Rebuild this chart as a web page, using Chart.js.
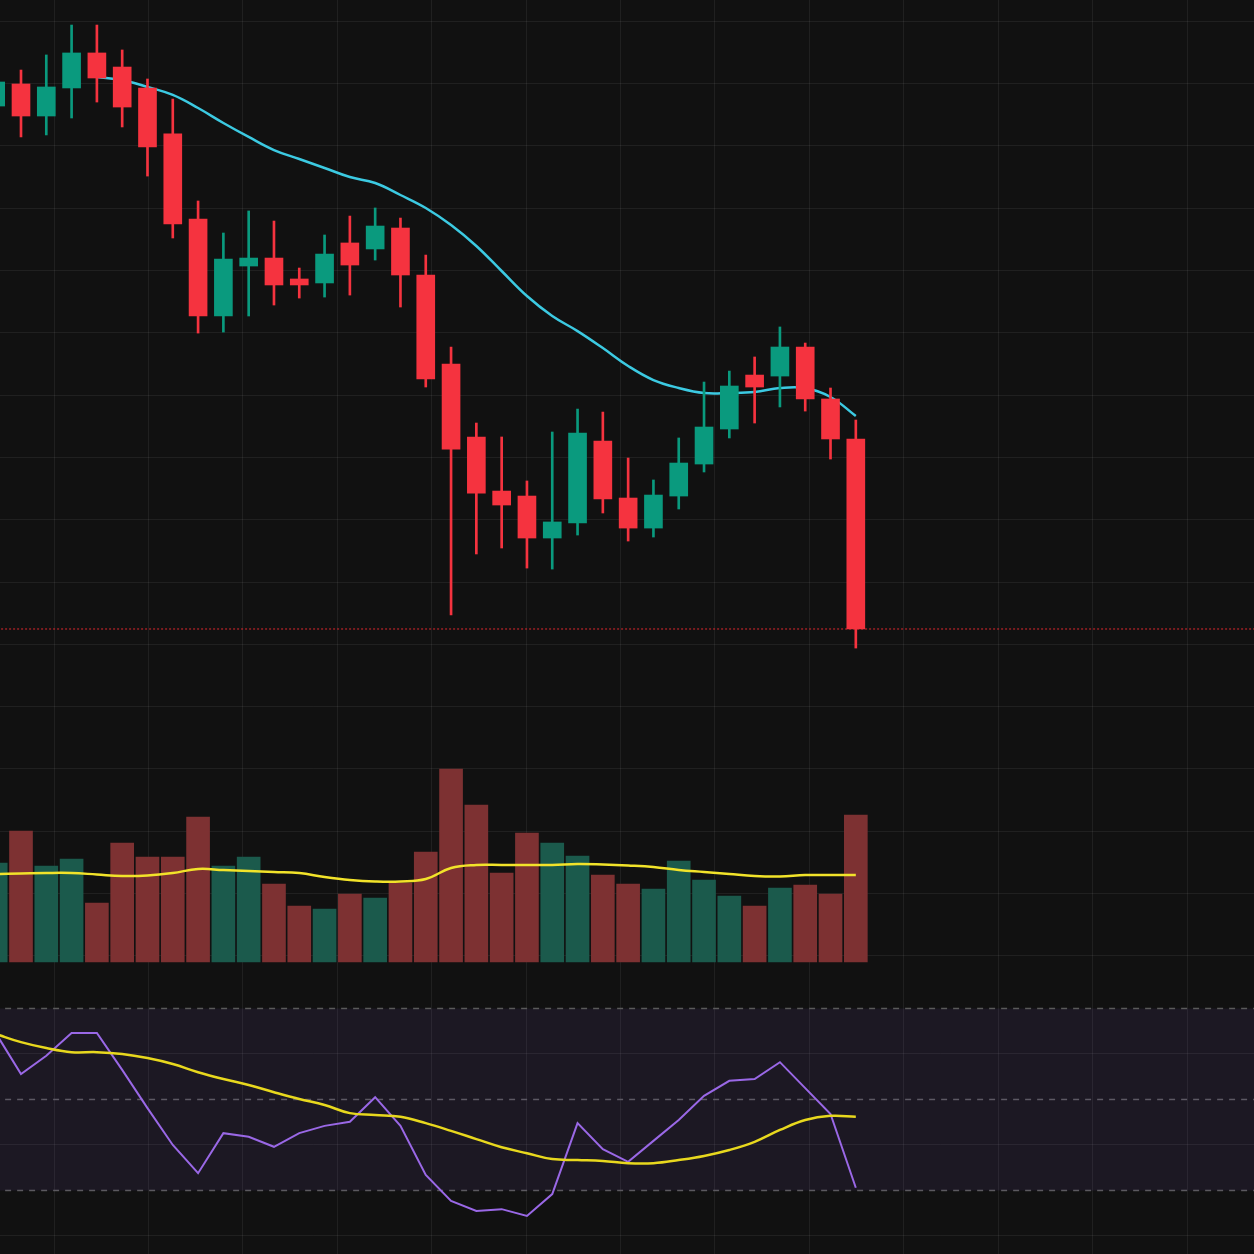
<!DOCTYPE html>
<html>
<head>
<meta charset="utf-8">
<script src="https://cdn.jsdelivr.net/npm/chart.js@4.4.1/dist/chart.umd.min.js"></script>
<style>
  html, body { margin: 0; padding: 0; background: #111111; }
  #wrap { width: 1254px; height: 1254px; }
</style>
</head>
<body>
<div id="wrap"><canvas id="grafico"></canvas></div>
<script>
// OHLC por vela
const opens  = [2532.0, 2549.7, 2524.0, 2546.5, 2574.6, 2563.3, 2546.5, 2509.6, 2441.3, 2363.5, 2403.6, 2410.0, 2393.2, 2390.0, 2422.1, 2417.3, 2434.1, 2396.4, 2325.0, 2266.4, 2223.0, 2219.0, 2185.3, 2197.4, 2263.2, 2217.4, 2193.3, 2219.0, 2244.7, 2272.8, 2316.1, 2315.3, 2338.6, 2296.9, 2264.8];
const highs  = [2556.1, 2560.9, 2573.0, 2597.0, 2597.0, 2577.0, 2553.7, 2537.6, 2455.8, 2430.1, 2447.8, 2439.7, 2402.0, 2428.5, 2443.7, 2450.2, 2442.1, 2412.4, 2338.6, 2277.6, 2266.4, 2231.1, 2270.4, 2288.8, 2286.4, 2249.5, 2231.9, 2265.6, 2310.5, 2319.3, 2330.6, 2354.7, 2341.8, 2305.7, 2280.0];
const lows   = [2527.2, 2507.2, 2508.8, 2522.4, 2535.2, 2515.2, 2475.8, 2426.1, 2349.8, 2350.6, 2363.5, 2372.3, 2377.9, 2378.7, 2380.3, 2408.4, 2370.7, 2306.5, 2123.5, 2172.5, 2177.3, 2161.2, 2160.4, 2187.7, 2205.4, 2182.9, 2186.1, 2208.6, 2238.3, 2265.6, 2277.6, 2290.5, 2287.2, 2248.7, 2097.0];
const closes = [2551.3, 2524.0, 2547.3, 2574.6, 2554.5, 2531.2, 2499.1, 2437.3, 2363.5, 2409.2, 2410.0, 2388.4, 2388.4, 2413.2, 2404.4, 2435.7, 2396.4, 2312.9, 2256.7, 2221.4, 2211.8, 2185.3, 2198.2, 2269.6, 2216.6, 2193.3, 2219.8, 2245.5, 2274.4, 2307.3, 2306.5, 2338.6, 2296.9, 2264.8, 2112.3];
// media movil del precio
const priceMa = [null, null, null, null, 2555.3, 2552.9, 2547.3, 2540.9, 2530.4, 2518.4, 2507.2, 2496.7, 2489.5, 2482.3, 2475.0, 2470.2, 2460.6, 2450.2, 2436.5, 2419.7, 2399.6, 2379.5, 2363.5, 2351.4, 2337.8, 2323.4, 2312.1, 2305.7, 2301.7, 2301.7, 2302.5, 2305.7, 2305.7, 2298.5, 2283.2];
// volumen y su media
const volumes = [99, 131, 96, 103, 59, 119, 105, 105, 145, 96, 105, 78, 56, 53, 68, 64, 79, 110, 193, 157, 89, 129, 119, 106, 87, 78, 73, 101, 82, 66, 56, 74, 77, 68, 147];
const volumeMa = [88, 88.5, 89, 89, 87.5, 86, 86.5, 89, 93, 92, 91, 90, 89, 85, 82, 80.5, 80.5, 83, 94, 97, 97, 97, 97, 98, 97.5, 96.5, 95, 92, 90, 88, 86, 85.5, 87, 87, 87];
// RSI y su media
const rsi   = [64.6, 55.6, 59.6, 64.6, 64.6, 56.5, 48.1, 40.0, 33.8, 42.6, 41.8, 39.6, 42.6, 44.2, 45.1, 50.5, 44.2, 33.4, 27.7, 25.5, 25.9, 24.4, 29.2, 44.8, 39.1, 36.3, 40.9, 45.5, 50.8, 54.1, 54.5, 58.2, 52.5, 46.8, 30.6];
const rsiMa = [64.4, 62.6, 61.3, 60.4, 60.4, 60.0, 59.1, 57.8, 56.0, 54.5, 53.2, 51.6, 50.1, 48.8, 47.0, 46.6, 46.2, 44.8, 43.1, 41.3, 39.5, 38.2, 36.9, 36.7, 36.5, 36.0, 36.0, 36.7, 37.6, 38.9, 40.7, 43.3, 45.5, 46.4, 46.2];
const rsiLevels = [70, 50, 30];

document.addEventListener("DOMContentLoaded", () => {
    const ctx = document.getElementById('grafico').getContext('2d');
    const gridColor = 'rgba(255,255,255,0.065)';
    const up = closes.map((c, i) => c >= opens[i]);
    const candleColor = up.map(u => u ? '#0a9a7e' : '#f5333f');
    const volColor = up.map(u => u ? '#1b5a4c' : '#7d3132');
    const pts = arr => arr.map((v, i) => ({ x: i, y: v }));
    const flat = v => [{ x: -2, y: v }, { x: 52, y: v }];
    const last = closes[closes.length - 1];

    // lineas 70 / 50 / 30 y banda entre 70 y 30
    const levelSets = rsiLevels.map((lv, k) => ({
        type: 'line',
        xAxisID: 'x',
        yAxisID: 'yr',
        data: flat(lv),
        borderColor: '#5a5a5a',
        borderWidth: 1.5,
        borderDash: [6, 6],
        pointRadius: 0,
        fill: k === 0 ? { value: rsiLevels[rsiLevels.length - 1] } : false,
        backgroundColor: 'rgba(126,87,194,0.10)',
        order: 9
    }));

    new Chart(ctx, {
        type: 'bar',
        data: {
            datasets: [
                // mechas
                { type: 'bar', xAxisID: 'x', yAxisID: 'y', data: lows.map((l, i) => ({ x: i, y: [l, highs[i]] })),
                  backgroundColor: candleColor, barThickness: 2, grouped: false, order: 2 },
                // cuerpos
                { type: 'bar', xAxisID: 'x', yAxisID: 'y', data: opens.map((o, i) => ({ x: i, y: [o, closes[i]] })),
                  backgroundColor: candleColor, barThickness: 18, grouped: false, order: 1 },
                { type: 'line', xAxisID: 'x', yAxisID: 'y', data: pts(priceMa), borderColor: '#3ccae2', borderWidth: 2.5,
                  pointRadius: 0, tension: 0.4, order: 3 },
                // precio actual
                { type: 'line', xAxisID: 'x', yAxisID: 'y', data: flat(last), borderColor: '#e0282e', borderWidth: 1,
                  borderDash: [2, 2], pointRadius: 0, order: 4 },
                { type: 'bar', xAxisID: 'x', yAxisID: 'yv', data: pts(volumes), backgroundColor: volColor,
                  barThickness: 23, grouped: false, order: 6 },
                { type: 'line', xAxisID: 'x', yAxisID: 'yv', data: pts(volumeMa), borderColor: '#f2e32a', borderWidth: 2.5,
                  pointRadius: 0, tension: 0.4, order: 5 },
                ...levelSets,
                { type: 'line', xAxisID: 'x', yAxisID: 'yr', data: pts(rsi), borderColor: '#9a68e6', borderWidth: 2,
                  pointRadius: 0, tension: 0, order: 7 },
                { type: 'line', xAxisID: 'x', yAxisID: 'yr', data: pts(rsiMa), borderColor: '#e8d81e', borderWidth: 2.5,
                  pointRadius: 0, tension: 0.4, order: 6 }
            ]
        },
        options: {
            responsive: true,
            maintainAspectRatio: false,
            animation: false,
            layout: { padding: 0 },
            plugins: { legend: { display: false }, tooltip: { enabled: false } },
            scales: {
                x: { type: 'linear', axis: 'x', min: 0.17, max: 49.74, offset: false, display: false },
                xg: { type: 'linear', axis: 'x', position: 'bottom', min: -0.572, max: 12.709, offset: false,
                      ticks: { display: false, stepSize: 1, includeBounds: false },
                      grid: { color: gridColor, drawTicks: false, offset: false }, border: { display: false } },
                y: { type: 'linear', axis: 'y', position: 'left', min: 1610.7, max: 2617.1,
                     ticks: { display: false, stepSize: 50, includeBounds: false },
                     grid: { drawTicks: false, color: c => c.tick && c.tick.value >= 1850 ? gridColor : 'transparent' },
                     border: { display: false } },
                yv: { type: 'linear', axis: 'y', position: 'left', min: -292, max: 962,
                      ticks: { display: false, stepSize: 1000, includeBounds: false },
                      grid: { drawTicks: false, lineWidth: 2, color: c => c.tick && c.tick.value === 0 ? '#363636' : 'transparent' },
                      border: { display: false } },
                yr: { type: 'linear', axis: 'y', position: 'left', min: 16.04, max: 291.65,
                      ticks: { display: false, stepSize: 10, includeBounds: false },
                      grid: { drawTicks: false, color: c => c.tick && [20, 40, 60].includes(c.tick.value) ? gridColor : 'transparent' },
                      border: { display: false } }
            }
        }
    });
});
</script>
</body>
</html>
